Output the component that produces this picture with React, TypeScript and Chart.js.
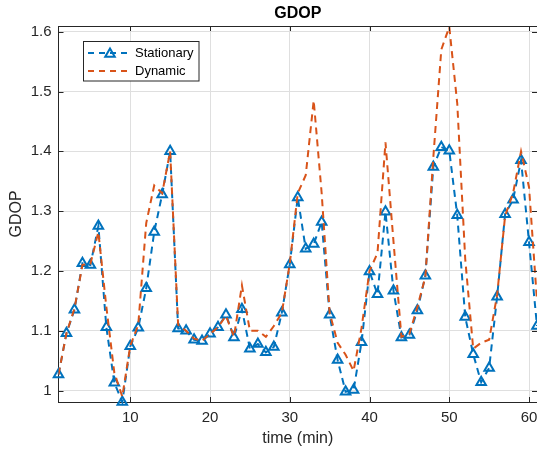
import React, { useEffect, useRef } from "react";
import { Chart, registerables } from "chart.js";

Chart.register(...registerables);

const timeMin = [
  1, 2, 3, 4, 5, 6, 7, 8, 9, 10, 11, 12, 13, 14, 15, 16, 17, 18, 19, 20,
  21, 22, 23, 24, 25, 26, 27, 28, 29, 30, 31, 32, 33, 34, 35, 36, 37, 38, 39, 40,
  41, 42, 43, 44, 45, 46, 47, 48, 49, 50, 51, 52, 53, 54, 55, 56, 57, 58, 59, 60, 61,
];

const stationary = [
  1.027, 1.096, 1.135, 1.213, 1.21, 1.275, 1.106, 1.013, 0.981, 1.074,
  1.105, 1.171, 1.265, 1.328, 1.4, 1.104, 1.1, 1.085, 1.083, 1.095,
  1.106, 1.127, 1.089, 1.136, 1.07, 1.078, 1.064, 1.073, 1.13, 1.211,
  1.323, 1.237, 1.245, 1.282, 1.127, 1.051, 0.998, 1.001, 1.081, 1.199,
  1.161, 1.299, 1.167, 1.089, 1.093, 1.134, 1.192, 1.374, 1.407, 1.401,
  1.293, 1.123, 1.061, 1.014, 1.038, 1.157, 1.295, 1.319, 1.385, 1.248, 1.108,
];

const dynamic = [
  1.027, 1.096, 1.137, 1.21, 1.212, 1.265, 1.14, 1.03, 0.99, 1.075,
  1.11, 1.28, 1.343, 1.33, 1.4, 1.11, 1.1, 1.087, 1.083, 1.095,
  1.106, 1.125, 1.09, 1.176, 1.1, 1.1, 1.09, 1.108, 1.13, 1.212,
  1.33, 1.36, 1.485, 1.33, 1.13, 1.08, 1.06, 1.033, 1.105, 1.2,
  1.23, 1.415, 1.25, 1.09, 1.095, 1.14, 1.19, 1.39, 1.57, 1.608,
  1.48, 1.22, 1.07, 1.08, 1.085, 1.16, 1.292, 1.33, 1.4, 1.34, 1.15,
];

const xTicks = [10, 20, 30, 40, 50, 60];
const yTicks = [1, 1.1, 1.2, 1.3, 1.4, 1.5, 1.6];

const seriesNames = ["Stationary", "Dynamic"];
const titleText = "GDOP";
const xLabel = "time (min)";
const yLabel = "GDOP";

const BLUE = "#0072BD";
const ORANGE = "#D95319";
const AXIS = "#262626";
const FONT = "'Liberation Sans', Arial, Helvetica, sans-serif";

function drawTri(ctx: CanvasRenderingContext2D, x: number, y: number, r: number) {
  let rad = 0;
  ctx.beginPath();
  ctx.moveTo(x + Math.sin(rad) * r, y - Math.cos(rad) * r);
  rad += (2 * Math.PI) / 3;
  ctx.lineTo(x + Math.sin(rad) * r, y - Math.cos(rad) * r);
  rad += (2 * Math.PI) / 3;
  ctx.lineTo(x + Math.sin(rad) * r, y - Math.cos(rad) * r);
  ctx.closePath();
  ctx.stroke();
}

const matlabPlugin = {
  id: "matlabDecor",
  afterDraw(chart: any) {
    const { ctx, chartArea: ca, scales } = chart;
    ctx.save();
    ctx.strokeStyle = AXIS;
    ctx.lineWidth = 1;
    ctx.setLineDash([]);
    ctx.beginPath();
    ctx.moveTo(ca.left, ca.top + 0.5);
    ctx.lineTo(ca.right, ca.top + 0.5);
    for (const v of xTicks) {
      const px = Math.round(scales.x.getPixelForValue(v)) + 0.5;
      ctx.moveTo(px, ca.bottom);
      ctx.lineTo(px, ca.bottom - 5);
      ctx.moveTo(px, ca.top);
      ctx.lineTo(px, ca.top + 5);
    }
    for (const v of yTicks) {
      const py = Math.round(scales.y.getPixelForValue(v)) + 0.5;
      ctx.moveTo(ca.left, py);
      ctx.lineTo(ca.left + 5, py);
      ctx.moveTo(ca.right, py);
      ctx.lineTo(ca.right - 5, py);
    }
    ctx.stroke();

    // legend
    const lx = 83.5, ly = 41.5, lw = 115.5, lh = 39.5;
    ctx.fillStyle = "#ffffff";
    ctx.fillRect(lx, ly, lw, lh);
    ctx.strokeStyle = AXIS;
    ctx.lineWidth = 1;
    ctx.strokeRect(lx, ly, lw, lh);

    const rows = [
      { y: 53, color: BLUE, marker: true, name: seriesNames[0] },
      { y: 71, color: ORANGE, marker: false, name: seriesNames[1] },
    ];
    for (const r of rows) {
      ctx.strokeStyle = r.color;
      ctx.lineWidth = 2;
      ctx.setLineDash([6, 5]);
      ctx.beginPath();
      ctx.moveTo(88, r.y);
      ctx.lineTo(131, r.y);
      ctx.stroke();
      ctx.setLineDash([]);
      if (r.marker) drawTri(ctx, 110, r.y + 1, 5.5);
      ctx.fillStyle = "#000";
      ctx.font = `13px ${FONT}`;
      ctx.textAlign = "left";
      ctx.textBaseline = "middle";
      ctx.fillText(r.name, 135, r.y);
    }
    ctx.restore();
  },
};

export default function App() {
  const ref = useRef<HTMLCanvasElement | null>(null);
  useEffect(() => {
    if (!ref.current) return;
    const chart = new Chart(ref.current, {
      type: "line",
      data: {
        datasets: [
          {
            label: seriesNames[0],
            data: timeMin.map((t, i) => ({ x: t, y: stationary[i] })),
            borderColor: BLUE,
            borderWidth: 2,
            borderDash: [7, 5],
            pointStyle: "triangle",
            pointRadius: 5.5,
            pointBorderWidth: 2,
            pointBorderColor: BLUE,
            pointBackgroundColor: "rgba(0,0,0,0)",
            tension: 0,
            fill: false,
            clip: false as any,
            order: 1,
          },
          {
            label: seriesNames[1],
            data: timeMin.map((t, i) => ({ x: t, y: dynamic[i] })),
            borderColor: ORANGE,
            borderWidth: 2,
            borderDash: [7, 5],
            pointRadius: 0,
            tension: 0,
            fill: false,
            order: 0,
          },
        ],
      },
      options: {
        animation: false,
        responsive: false,
        layout: { padding: { left: 0, right: 43, top: 0, bottom: 0 } },
        plugins: {
          legend: { display: false },
          tooltip: { enabled: false },
          title: {
            display: true,
            text: titleText,
            fullSize: false,
            color: "#000",
            font: { family: FONT, size: 16, weight: "bold", lineHeight: 1.2 },
            padding: { top: 4, bottom: 2.8 },
          },
        },
        scales: {
          x: {
            type: "linear",
            min: 1,
            max: 61,
            afterBuildTicks: (s: any) => {
              s.ticks = xTicks.map((v) => ({ value: v }));
            },
            afterFit: (s: any) => {
              s.height = 49;
            },
            grid: { color: "#dfdfdf", drawTicks: false, lineWidth: 1 },
            border: { display: true, color: AXIS, width: 1 },
            ticks: {
              color: AXIS,
              font: { family: FONT, size: 15 },
              padding: 7,
              maxRotation: 0,
              callback: (v: any) => String(v),
            },
            title: {
              display: true,
              text: xLabel,
              color: AXIS,
              font: { family: FONT, size: 16, lineHeight: 1.2 },
              padding: { top: 0, bottom: 2.4 },
            },
          },
          y: {
            type: "linear",
            min: 0.981,
            max: 1.6095,
            afterBuildTicks: (s: any) => {
              s.ticks = yTicks.map((v) => ({ value: v }));
            },
            afterFit: (s: any) => {
              s.width = 58.5;
            },
            grid: { color: "#dfdfdf", drawTicks: false, lineWidth: 1 },
            border: { display: true, color: AXIS, width: 1 },
            ticks: {
              color: AXIS,
              font: { family: FONT, size: 15 },
              padding: 7,
              callback: (v: any) => String(Math.round(v * 10) / 10),
            },
            title: {
              display: true,
              text: yLabel,
              color: AXIS,
              font: { family: FONT, size: 16, lineHeight: 1.2 },
              padding: { top: 6.5, bottom: 0 },
            },
          },
        },
      },
      plugins: [matlabPlugin],
    });
    return () => chart.destroy();
  }, []);

  return (
    <div
      style={{
        position: "absolute",
        left: 0,
        top: 0,
        width: 537,
        height: 451,
        overflow: "hidden",
        background: "#fff",
      }}
    >
      <canvas ref={ref} width={580} height={451} style={{ display: "block" }} />
    </div>
  );
}
